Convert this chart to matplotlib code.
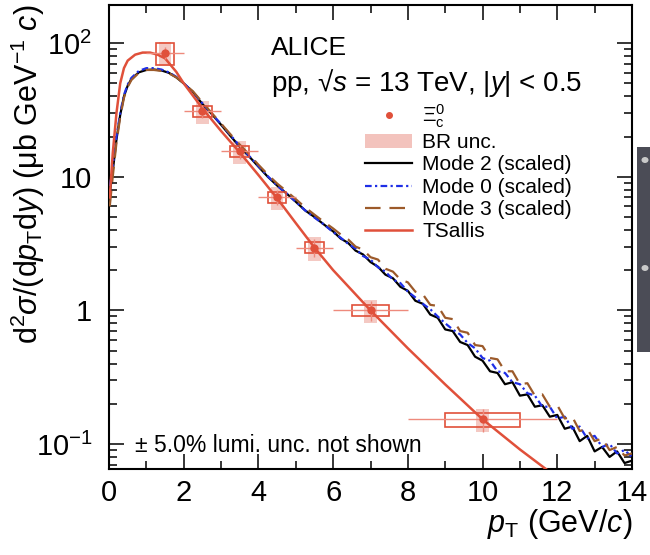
import matplotlib
matplotlib.use("Agg")
import matplotlib.pyplot as plt
from matplotlib.patches import Rectangle, Patch, Circle
from matplotlib.lines import Line2D
from matplotlib.ticker import FixedLocator, FixedFormatter, LogLocator, NullFormatter, MultipleLocator

plt.rcParams['font.family'] = ['Liberation Sans', 'DejaVu Sans']
plt.rcParams['mathtext.fontset'] = 'custom'
plt.rcParams['mathtext.rm'] = 'Liberation Sans'
plt.rcParams['mathtext.it'] = 'Liberation Sans:italic'
plt.rcParams['mathtext.bf'] = 'Liberation Sans:bold'

# ==== Xi_c^0 cross section (measured points) ====
pt = [1.5, 2.5, 3.5, 4.5, 5.5, 7.0, 10.0]
bin_hw = [0.5, 0.5, 0.5, 0.5, 0.5, 1.0, 2.0]
xsec = [85.0, 31.0, 15.5, 7.0, 2.95, 1.0, 0.153]
stat = [9.0, 3.5, 1.9, 0.9, 0.45, 0.17, 0.03]
syst = [16.0, 3.0, 1.4, 0.65, 0.28, 0.09, 0.019]
br_rel = [0.20, 0.20, 0.20, 0.20, 0.20, 0.20, 0.20]

# ==== Tsallis fit curve ====
ts_pt = [0.02, 0.1, 0.2, 0.3, 0.4, 0.5, 0.7, 0.9, 1.1, 1.3, 1.5, 1.8, 2.0, 2.5,
         3.0, 3.5, 4.0, 4.5, 5.0, 5.5, 6.0, 7.0, 8.0, 9.0, 10.0, 11.0, 12.0]
ts_val = [7.0, 15.0, 30.0, 50.0, 65.0, 74.0, 82.0, 85.0, 85.0, 82.0, 77.0, 61.0, 50.0, 32.5,
          22.0, 15.2, 10.3, 6.9, 4.5, 2.95, 2.0, 1.0, 0.52, 0.279, 0.153, 0.091, 0.056]

# ==== PYTHIA modes (scaled) ====
mode_pt = [0.02, 0.1, 0.2, 0.3, 0.4, 0.5, 0.6, 0.8, 1.0, 1.2, 1.4, 1.6, 1.8, 2.0,
           2.25, 2.5, 2.75, 3.0, 3.25, 3.5, 3.75, 4.0, 4.25, 4.5, 4.75, 5.0, 5.25, 5.5, 5.75,
           6.0, 6.2, 6.4, 6.6, 6.8, 7.0, 7.2, 7.4, 7.6, 7.8, 8.0, 8.2, 8.4, 8.6, 8.8,
           9.0, 9.2, 9.4, 9.6, 9.8, 10.0, 10.2, 10.4, 10.6, 10.8, 11.0, 11.2, 11.4, 11.6, 11.8,
           12.0, 12.2, 12.4, 12.6, 12.8, 13.0, 13.2, 13.4, 13.6, 13.8, 14.0]
mode2 = [7.5, 11.0, 19.0, 29.0, 40.0, 48.0, 54.0, 60.5, 63.0, 63.5, 62.5, 60.0, 55.5, 50.0,
         43.0, 35.0, 29.5, 24.5, 20.2, 16.8, 14.2, 11.9, 10.0, 8.6, 7.5, 6.5, 5.6, 5.0, 4.4,
         3.9, 3.45, 3.2, 2.8, 2.62, 2.3, 2.12, 1.85, 1.74, 1.5, 1.4, 1.18, 1.12, 0.93, 0.88,
         0.72, 0.7, 0.58, 0.55, 0.45, 0.42, 0.35, 0.34, 0.28, 0.29, 0.23, 0.235, 0.19, 0.195, 0.16,
         0.165, 0.13, 0.135, 0.105, 0.115, 0.088, 0.095, 0.08, 0.088, 0.072, 0.075]
mode0 = [8.5, 12.0, 20.0, 30.0, 41.0, 49.0, 55.0, 62.0, 65.0, 65.0, 63.5, 60.5, 56.0, 50.0,
         43.0, 35.5, 29.5, 24.8, 20.5, 17.0, 14.3, 12.0, 10.1, 8.6, 7.5, 6.5, 5.6, 4.95, 4.4,
         3.85, 3.5, 3.15, 2.9, 2.55, 2.4, 2.1, 1.95, 1.7, 1.6, 1.38, 1.25, 1.12, 1.02, 0.9,
         0.8, 0.72, 0.66, 0.57, 0.52, 0.44, 0.42, 0.35, 0.34, 0.29, 0.28, 0.24, 0.23, 0.19, 0.19,
         0.155, 0.16, 0.13, 0.135, 0.11, 0.115, 0.095, 0.1, 0.085, 0.09, 0.08]
mode3 = [6.0, 10.0, 18.0, 28.0, 39.0, 47.0, 53.0, 60.0, 63.0, 63.0, 62.0, 59.5, 55.5, 50.0,
         43.5, 36.0, 30.0, 25.0, 20.8, 17.4, 14.7, 12.3, 10.4, 8.9, 7.8, 6.8, 5.9, 5.2, 4.6,
         4.1, 3.7, 3.4, 3.0, 2.85, 2.5, 2.4, 2.05, 1.95, 1.7, 1.62, 1.38, 1.32, 1.1, 1.08,
         0.88, 0.86, 0.7, 0.68, 0.55, 0.54, 0.44, 0.43, 0.35, 0.35, 0.28, 0.285, 0.23, 0.235, 0.19,
         0.195, 0.155, 0.16, 0.125, 0.13, 0.105, 0.11, 0.09, 0.095, 0.082, 0.085]

ytick_vals = [0.1, 1, 10, 100]
ytick_labels = [r'$10^{-1}$', '1', '10', r'$10^{2}$']

red = '#e0503a'
pink = '#f3c3bd'
blue = '#1e2ee6'
brown = '#9c5a2a'

fig = plt.figure(figsize=(6.5, 5.55), dpi=100)
ax = fig.add_axes([0.1677, 0.155, 0.8046, 0.836])
ax.set_yscale('log')

# model curves
ax.plot(mode_pt, mode2, color='black', lw=1.6, zorder=3)
ax.plot(mode_pt, mode0, color=blue, lw=1.6, dashes=(3, 1.5, 1, 1.5), zorder=4)
ax.plot(mode_pt, mode3, color=brown, lw=1.6, dashes=(7, 4), zorder=4)
ax.plot(ts_pt, ts_val, color=red, lw=1.8, zorder=5)

# data: BR band, syst boxes, error bars, markers
for p, v, hw, s, b in zip(pt, xsec, bin_hw, syst, br_rel):
    ax.add_patch(Rectangle((p - 0.17, v * (1 - b)), 0.34, 2 * b * v,
                           facecolor=pink, edgecolor='none', alpha=0.9, zorder=2))
    ax.add_patch(Rectangle((p - hw / 2, v - s), hw, 2 * s,
                           fill=False, edgecolor=red, lw=1.2, zorder=6))
ax.errorbar(pt, xsec, xerr=bin_hw, yerr=stat, fmt='none', ecolor='#ee8a7c',
            elinewidth=1.0, zorder=6)
ax.plot(pt, xsec, 'o', color=red, ms=5, zorder=7)

ax.set_xlim(0, 14)
ax.set_ylim(0.065, 193)

# ==== ticks ====
ax.xaxis.set_major_locator(MultipleLocator(2))
ax.xaxis.set_minor_locator(MultipleLocator(1))
ax.yaxis.set_major_locator(FixedLocator(ytick_vals))
ax.yaxis.set_major_formatter(FixedFormatter(ytick_labels))
ax.yaxis.set_minor_locator(LogLocator(base=10, subs=range(2, 10)))
ax.yaxis.set_minor_formatter(NullFormatter())
ax.tick_params(which='both', direction='in', top=True, right=True, labelsize=21, width=1.1)
ax.tick_params(which='major', length=11)
ax.tick_params(axis='y', which='major', pad=12)
ax.tick_params(axis='x', which='major', pad=7)
ax.tick_params(which='minor', length=5.5)
for sp in ax.spines.values():
    sp.set_linewidth(1.5)

ax.set_xlabel(r'$p_{\rm T}$ (GeV/$c$)', fontsize=22, loc='right', labelpad=0)
ax.set_ylabel(r'd$^{2}\sigma$/(d$p_{\rm T}$d$y$) (μb GeV$^{-1}$ $c$)', fontsize=22,
              loc='top')
ax.yaxis.set_label_coords(-0.118, 1.0)

# ==== texts ====
ax.text(0.31, 0.907, 'ALICE', transform=ax.transAxes, fontsize=19, va='center')
ax.text(0.31, 0.832, 'pp, √$s$ = 13 TeV, |$y$| < 0.5', transform=ax.transAxes,
        fontsize=20, va='center')
ax.text(0.05, 0.05, '± 5.0% lumi. unc. not shown', transform=ax.transAxes,
        fontsize=16.5, va='center')

handles = [Line2D([], [], marker='o', ls='none', color=red, ms=4),
           Patch(facecolor=pink, edgecolor='none'),
           Line2D([], [], color='black', lw=1.6),
           Line2D([], [], color=blue, lw=1.6, dashes=(3, 1.5, 1, 1.5)),
           Line2D([], [], color=brown, lw=1.6, dashes=(7, 4)),
           Line2D([], [], color=red, lw=1.8)]
labels = [r'$\Xi_{\rm c}^{0}$', 'BR unc.', 'Mode 2 (scaled)', 'Mode 0 (scaled)',
          'Mode 3 (scaled)', 'TSallis']
ax.legend(handles, labels, loc='upper left', bbox_to_anchor=(0.49, 0.79), frameon=False,
          fontsize=15, handlelength=2.25, handletextpad=0.48, labelspacing=0.16,
          borderpad=0, borderaxespad=0)

# gray strip at the right edge
fig.patches.append(Rectangle((637 / 650, 1 - 352 / 555), 13 / 650, 205 / 555,
                             transform=fig.transFigure, facecolor='#4b4c56',
                             edgecolor='none', zorder=0))
for yy in (160, 268):
    fig.patches.append(Circle((645 / 650, 1 - yy / 555), 3.5 / 650,
                              transform=fig.transFigure, facecolor='#c9c9c9',
                              edgecolor='none', zorder=1))

fig.savefig('out.png', dpi=100)
